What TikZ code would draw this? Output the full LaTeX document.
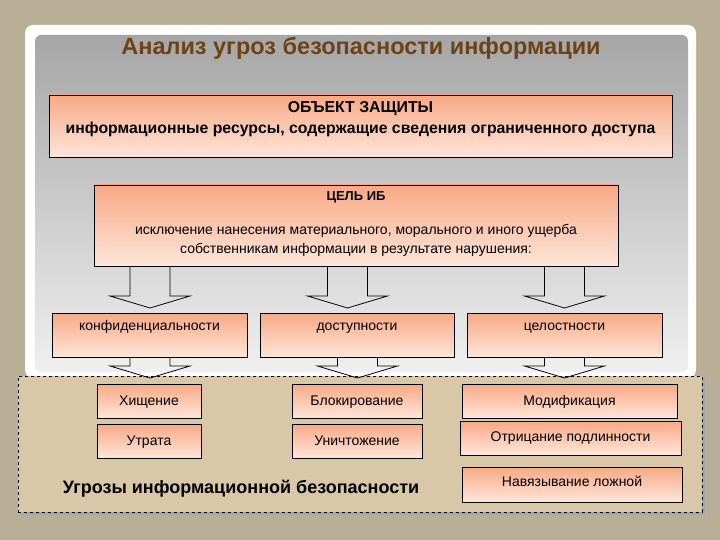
\documentclass[tikz,border=0pt]{standalone}
\usepackage{fontspec}
\setmainfont{Liberation Sans}
\definecolor{bgtan}{HTML}{B9AF97}
\definecolor{panel}{HTML}{D9C8A8}
\definecolor{titlec}{HTML}{6E4216}
\definecolor{salmon}{HTML}{F8A986}
\definecolor{salmonl}{HTML}{FDE6DA}
\begin{document}
\begin{tikzpicture}[x=1pt,y=-1pt,
  box/.style={draw=black,line width=0.8pt,top color=salmon,bottom color=salmonl,inner sep=0pt},
  txt/.style={font=\fontsize{14}{17}\selectfont,align=center},
  barrow/.style={draw=black,line width=0.8pt,fill=none}]
\fill[bgtan] (0,0) rectangle (720,540);
\useasboundingbox (0,0) rectangle (720,540);
\fill[white,rounded corners=8pt] (25,25) rectangle (696,378);
\shade[top color=gray!70,bottom color=gray!12,rounded corners=6pt] (35,35) rectangle (688,372);
\node[font=\bfseries\fontsize{23.5}{26}\selectfont,text=titlec] (title) at (361,48) {Анализ угроз безопасности информации};
% box 1
\node[box,minimum width=623pt,minimum height=62pt] (obj) at (360.5,126) {};
\node[txt,font=\bfseries\fontsize{15.8}{21}\selectfont] (objt) at (360.5,119) {ОБЪЕКТ ЗАЩИТЫ\\информационные ресурсы, содержащие сведения ограниченного доступа};
% box 2
\node[box,minimum width=524pt,minimum height=81pt] (goal) at (356,225.5) {};
\node[txt,font=\bfseries\fontsize{13}{14}\selectfont] (goalh) at (356,197) {ЦЕЛЬ ИБ};
\node[txt,font=\fontsize{14}{19}\selectfont] (goalt) at (356,240) {исключение нанесения материального, морального и иного ущерба\\собственникам информации в результате нарушения:};
% dashed threat panel
\fill[black!35] (21,379) rectangle (705,515);
\node[draw=black,dashed,fill=panel,minimum width=684pt,minimum height=136pt,inner sep=0pt] (thr) at (360,444) {};
% block arrows
\foreach \cx/\ya/\yb/\yc in {150/266/296/308, 347.5/266/296/308, 564.5/266/296/308, 150/357/366/378, 357.5/357/366/378, 564.5/357/366/378}{
  \draw[barrow] (\cx-20,\ya) -- (\cx-20,\yb) -- (\cx-40,\yb) -- (\cx,\yc) -- (\cx+40,\yb) -- (\cx+20,\yb) -- (\cx+20,\ya);
}
% row boxes
\tikzset{bt/.style={font=\fontsize{14}{16}\selectfont,anchor=base}}
\node[box,minimum width=195pt,minimum height=44pt] (conf) at (149.5,335) {};
\node[bt] at (149.5,330) {конфиденциальности};
\node[box,minimum width=194pt,minimum height=44pt] (avail) at (357,335) {};
\node[bt] at (357,330) {доступности};
\node[box,minimum width=195pt,minimum height=44pt] (integ) at (564.5,335) {};
\node[bt] at (564.5,330) {целостности};
% threat boxes
\tikzset{tb/.style={box,minimum height=34pt}}
\node[tb,minimum width=104pt] (t1) at (149,401) {};
\node[bt] at (149,405) {Хищение};
\node[tb,minimum width=104pt] (t2) at (149,441) {};
\node[bt] at (149,445) {Утрата};
\node[tb,minimum width=130pt] (t3) at (357,401) {};
\node[bt] at (357,405) {Блокирование};
\node[tb,minimum width=130pt] (t4) at (357,441) {};
\node[bt] at (357,445) {Уничтожение};
\node[tb,minimum width=215pt] (t5) at (569.5,401) {};
\node[bt] at (569.5,405) {Модификация};
\node[tb,minimum width=221pt] (t6) at (570.5,438) {};
\node[bt] at (570.5,441) {Отрицание подлинности};
\node[tb,minimum width=220pt,minimum height=35pt] (t7) at (572,484.5) {};
\node[bt] at (572,486) {Навязывание ложной};
\node[font=\bfseries\fontsize{18}{20}\selectfont] (lbl) at (241,489) {Угрозы информационной безопасности};
\end{tikzpicture}
\end{document}
